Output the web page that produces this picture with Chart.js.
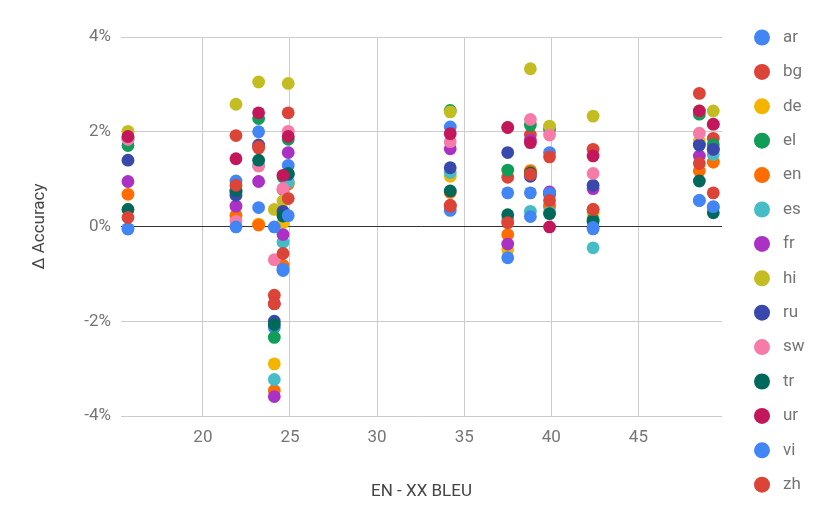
<!DOCTYPE html>
<html>
<head>
<meta charset="utf-8">
<script src="https://cdn.jsdelivr.net/npm/chart.js@4.4.1/dist/chart.umd.min.js"></script>
<style>
  html, body { margin: 0; padding: 0; background: #fff; }
  #wrap { width: 830px; height: 529px; }
</style>
</head>
<body>
<div id="wrap"><canvas id="chart" width="830" height="529"></canvas></div>
<script>
// EN->XX BLEU of each target column
const bleu = [15.7, 21.9, 23.2, 24.1, 24.6, 24.9, 34.2, 37.5, 38.8, 39.9, 42.4, 48.5, 49.3];

// delta accuracy (%) per evaluation language, one value per column above
const ar = [-0.05, 0.96, 2.00, -2.13, -0.93, 1.29, 2.10, 0.71, 0.71, 1.56, -0.05, 0.55, 0.40];
const bg = [1.88, 1.92, 1.66, -1.45, 0.78, 2.40, 0.45, 1.04, 1.93, 1.47, 1.63, 2.81, 1.86];
const de = [0.36, 0.23, 0.05, -2.90, 0.08, 0.92, 1.06, -0.49, 1.15, 0.43, 0.29, 1.80, 1.36];
const el = [1.71, 0.72, 2.28, -2.34, 1.05, 1.84, 2.45, 1.19, 2.14, 2.05, 0.15, 2.37, 1.73];
const en = [0.68, 0.23, 0.03, -3.46, -0.82, 0.90, 0.72, -0.17, 1.18, 0.43, 0.36, 1.17, 1.36];
const es = [1.84, 0.75, 1.28, -3.23, -0.33, 0.94, 1.14, 0.15, 0.32, 0.30, -0.45, 1.72, 1.52];
const fr = [0.95, 0.43, 0.95, -3.59, -0.17, 1.56, 1.64, -0.37, 1.82, 0.73, 0.80, 1.49, 1.63];
const hi = [2.01, 2.58, 3.05, 0.36, 0.54, 3.02, 2.42, 2.09, 3.33, 2.12, 2.33, 2.44, 2.44];
const ru = [1.40, 0.66, 1.72, -2.00, 0.32, 1.10, 1.24, 1.56, 1.06, 0.68, 0.87, 1.72, 1.63];
const sw = [1.84, 0.11, 1.28, -0.70, 0.80, 2.01, 1.79, 0.10, 2.26, 1.93, 1.12, 1.97, 2.16];
const tr = [0.36, 0.76, 1.40, -2.07, 0.22, 1.12, 0.75, 0.25, 1.13, 0.27, 0.11, 0.96, 0.29];
const ur = [1.90, 1.43, 2.40, -1.63, 1.08, 1.90, 1.96, 2.09, 1.77, -0.01, 1.49, 2.44, 2.16];
const vi = [-0.05, -0.01, 0.40, -0.01, -0.90, 0.23, 0.34, -0.66, 0.21, 0.70, -0.02, 0.55, 0.42];
const zh = [0.19, 0.87, 1.68, -1.63, -0.57, 0.59, 0.43, 0.08, 1.10, 0.55, 0.36, 1.33, 0.71];

const langs = ["ar", "bg", "de", "el", "en", "es", "fr", "hi", "ru", "sw", "tr", "ur", "vi", "zh"];
const series = [ar, bg, de, el, en, es, fr, hi, ru, sw, tr, ur, vi, zh];
const colors = ["#4285f4", "#db4437", "#f4b400", "#0f9d58", "#ff6d00", "#46bdc6", "#ab30c4",
                "#c3bd22", "#3949ab", "#f77ba8", "#00695c", "#c2185b", "#4285f4", "#db4437"];

const xTicks = [20, 25, 30, 35, 40, 45];
const yTicks = [-4, -2, 0, 2, 4];

const FONT = "Roboto, 'Noto Sans', sans-serif";

const sideLegend = {
  id: "sideLegend",
  afterDraw(chart) {
    const { ctx } = chart;
    ctx.save();
    ctx.font = `17px ${FONT}`;
    ctx.textBaseline = "middle";
    chart.data.datasets.forEach((ds, i) => {
      const y = 37.5 + i * 34.4;
      ctx.fillStyle = ds.backgroundColor;
      ctx.beginPath();
      ctx.arc(762, y, 8, 0, Math.PI * 2);
      ctx.fill();
      ctx.fillStyle = "#757575";
      ctx.fillText(ds.label, 783, y);
    });
    ctx.restore();
  },
};

new Chart(document.getElementById("chart"), {
  type: "scatter",
  data: {
    // later languages are painted on top of earlier ones
    datasets: langs.map((name, i) => ({
      label: name,
      order: langs.length - i,
      data: series[i].map((v, j) => ({ x: bleu[j], y: v })),
      backgroundColor: colors[i],
      borderWidth: 0,
      pointRadius: 6.4,
      pointHoverRadius: 6.4,
    })),
  },
  options: {
    responsive: false,
    animation: false,
    layout: { padding: { top: 37, right: 108, left: 0, bottom: 0 } },
    plugins: { legend: { display: false }, tooltip: { enabled: false } },
    scales: {
      x: {
        type: "linear",
        min: 15.3,
        max: 49.8,
        afterBuildTicks: (axis) => { axis.ticks = xTicks.map((v) => ({ value: v })); },
        afterFit: (scale) => { scale.height = 113; },
        grid: { color: "#cccccc", drawTicks: false },
        border: { display: false },
        ticks: { color: "#757575", font: { family: FONT, size: 17 }, padding: 12 },
        title: { display: true, text: "EN - XX BLEU", color: "#444444", font: { family: FONT, size: 17 }, padding: { bottom: 27 } },
      },
      y: {
        type: "linear",
        min: -4,
        max: 4,
        afterBuildTicks: (axis) => { axis.ticks = yTicks.map((v) => ({ value: v })); },
        afterFit: (scale) => { scale.width = 121; },
        grid: {
          color: (c) => (c.tick && c.tick.value === 0 ? "#333333" : "#cccccc"),
          drawTicks: false,
        },
        border: { display: false },
        ticks: { color: "#757575", font: { family: FONT, size: 17 }, padding: 10, callback: (v) => v + "%" },
        title: { display: true, text: "Δ Accuracy", color: "#444444", font: { family: FONT, size: 17 }, padding: { top: 30 } },
      },
    },
  },
  plugins: [sideLegend],
});
</script>
</body>
</html>
